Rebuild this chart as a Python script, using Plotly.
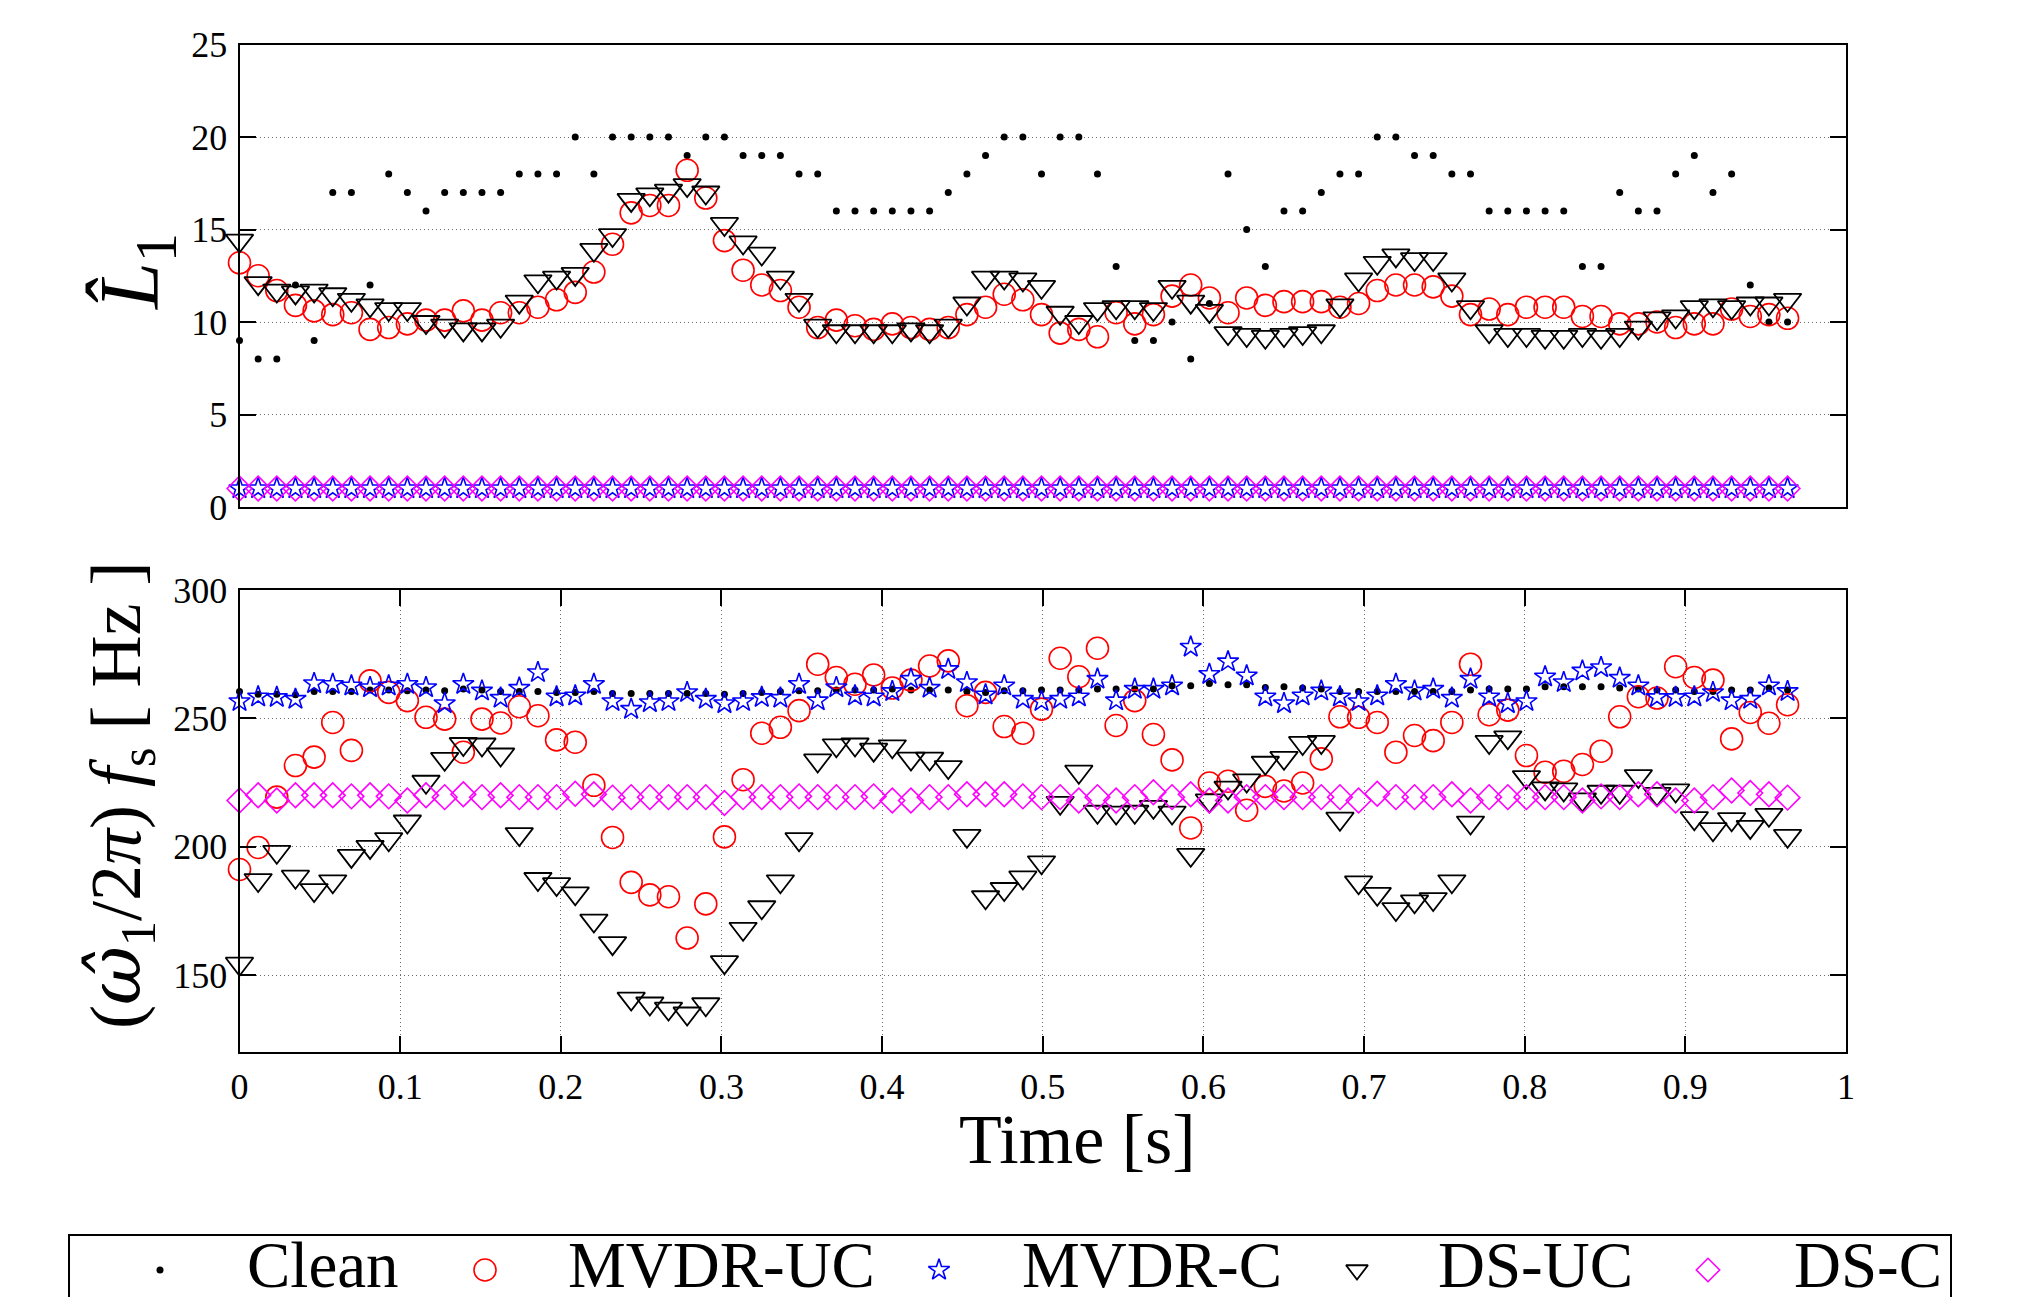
import plotly.graph_objects as go

# ---------------- data ----------------
hop_s = 512 / 44100.0
n_frames = 84
time_s = [round(i * hop_s, 5) for i in range(n_frames)]

series_names = ["Clean", "MVDR-UC", "MVDR-C", "DS-UC", "DS-C"]

# Top panel: estimated number of harmonics L1
clean_L = [9, 8, 8, 12, 9, 17, 17, 12, 18, 17,
           16, 17, 17, 17, 17, 18, 18, 18, 20, 18,
           20, 20, 20, 20, 19, 20, 20, 19, 19, 19,
           18, 18, 16, 16, 16, 16, 16, 16, 17, 18,
           19, 20, 20, 18, 20, 20, 18, 13, 9, 9,
           10, 8, 11, 18, 15, 13, 16, 16, 17, 18,
           18, 20, 20, 19, 19, 18, 18, 16, 16, 16,
           16, 16, 13, 13, 17, 16, 16, 18, 19, 17,
           18, 12, 10, 10]
mvdr_uc_L = [13.2, 12.5, 11.7, 10.9, 10.6, 10.4, 10.5, 9.6, 9.7, 9.9,
             10.1, 10.1, 10.6, 10.1, 10.5, 10.5, 10.8, 11.2, 11.6, 12.7,
             14.2, 15.9, 16.3, 16.3, 18.2, 16.7, 14.4, 12.8, 12.0, 11.7,
             10.8, 9.7, 10.1, 9.8, 9.6, 9.9, 9.7, 9.6, 9.7, 10.4,
             10.8, 11.5, 11.2, 10.4, 9.4, 9.6, 9.2, 10.5, 9.9, 10.4,
             11.4, 12.0, 11.3, 10.5, 11.3, 10.9, 11.1, 11.1, 11.1, 10.8,
             11.0, 11.7, 12.0, 12.0, 11.9, 11.4, 10.4, 10.7, 10.4, 10.8,
             10.8, 10.8, 10.3, 10.3, 9.9, 9.9, 10.0, 9.7, 9.9, 9.9,
             10.7, 10.3, 10.4, 10.2]
mvdr_c_L = [1, 1, 1, 1, 1, 1, 1, 1, 1, 1,
            1, 1, 1, 1, 1, 1, 1, 1, 1, 1,
            1, 1, 1, 1, 1, 1, 1, 1, 1, 1,
            1, 1, 1, 1, 1, 1, 1, 1, 1, 1,
            1, 1, 1, 1, 1, 1, 1, 1, 1, 1,
            1, 1, 1, 1, 1, 1, 1, 1, 1, 1,
            1, 1, 1, 1, 1, 1, 1, 1, 1, 1,
            1, 1, 1, 1, 1, 1, 1, 1, 1, 1,
            1, 1, 1, 1]
ds_uc_L = [14.4, 12.1, 11.7, 11.6, 11.7, 11.5, 11.2, 10.9, 10.7, 10.7,
           10.0, 9.8, 9.6, 9.6, 9.8, 11.1, 12.2, 12.4, 12.6, 13.9,
           14.7, 16.6, 16.9, 17.1, 17.4, 17.0, 15.3, 14.3, 13.7, 12.4,
           11.2, 9.8, 9.5, 9.5, 9.5, 9.5, 9.6, 9.5, 9.8, 11.0,
           12.4, 12.4, 12.3, 11.9, 10.5, 10.0, 10.7, 10.8, 10.8, 10.7,
           11.9, 11.1, 10.6, 9.4, 9.3, 9.2, 9.3, 9.4, 9.5, 10.9,
           12.3, 13.2, 13.6, 13.4, 13.4, 12.3, 10.8, 9.5, 9.3, 9.3,
           9.2, 9.2, 9.3, 9.2, 9.3, 9.7, 10.2, 10.3, 10.8, 10.9,
           10.8, 11.0, 11.0, 11.2]
ds_c_L = [1, 1, 1, 1, 1, 1, 1, 1, 1, 1,
          1, 1, 1, 1, 1, 1, 1, 1, 1, 1,
          1, 1, 1, 1, 1, 1, 1, 1, 1, 1,
          1, 1, 1, 1, 1, 1, 1, 1, 1, 1,
          1, 1, 1, 1, 1, 1, 1, 1, 1, 1,
          1, 1, 1, 1, 1, 1, 1, 1, 1, 1,
          1, 1, 1, 1, 1, 1, 1, 1, 1, 1,
          1, 1, 1, 1, 1, 1, 1, 1, 1, 1,
          1, 1, 1, 1]

# Bottom panel: estimated fundamental frequency [Hz]
clean_f = [260.5, 259.4, 259.4, 259.2, 260.5, 260.5, 260.5, 261.0, 261.0, 260.7,
           261.0, 260.7, 261.4, 261.0, 260.5, 260.5, 260.5, 260.1, 260.1, 260.5,
           259.7, 259.7, 259.7, 259.7, 259.7, 259.7, 259.4, 259.7, 260.1, 260.5,
           260.7, 260.7, 261.0, 261.0, 261.0, 261.4, 261.0, 261.0, 261.0, 260.5,
           260.1, 260.7, 260.7, 261.0, 261.0, 261.0, 261.4, 261.4, 261.4, 261.4,
           262.7, 262.7, 263.6, 263.1, 263.1, 262.0, 262.3, 261.8, 261.4, 260.5,
           260.5, 260.5, 260.5, 260.5, 260.5, 260.5, 261.0, 261.4, 261.4, 261.4,
           262.3, 262.3, 262.3, 262.3, 261.8, 261.4, 261.0, 261.0, 260.5, 260.5,
           261.0, 261.0, 261.8, 261.0]
mvdr_uc_f = [191.1, 199.7, 219.3, 231.6, 234.9, 248.4, 237.5, 264.6, 260.1, 256.9,
             250.4, 249.7, 236.8, 249.7, 248.2, 254.5, 251.0, 241.6, 240.7, 223.9,
             203.6, 186.1, 181.2, 180.5, 164.4, 177.7, 203.8, 226.1, 244.2, 246.5,
             253.0, 271.1, 265.9, 263.3, 266.9, 261.8, 264.9, 270.4, 272.4, 254.9,
             260.1, 246.8, 244.2, 253.6, 273.4, 266.2, 277.3, 247.2, 256.9, 243.7,
             233.8, 207.3, 224.8, 225.5, 214.2, 223.5, 221.7, 224.8, 234.2, 250.6,
             250.4, 248.4, 236.8, 243.3, 241.3, 248.4, 271.1, 251.4, 253.2, 235.5,
             229.0, 229.4, 232.0, 237.2, 250.6, 258.4, 257.9, 270.1, 265.9, 264.9,
             242.0, 252.3, 248.1, 255.3]
mvdr_c_f = [256.6, 258.4, 258.2, 257.5, 263.6, 263.3, 262.7, 262.0, 262.7, 263.3,
            262.0, 255.8, 263.3, 260.7, 257.9, 261.8, 267.9, 258.4, 258.8, 263.3,
            256.6, 253.6, 256.2, 256.6, 260.1, 257.5, 255.8, 256.6, 258.2, 257.9,
            263.3, 256.9, 262.0, 258.8, 258.4, 260.5, 265.3, 261.8, 269.1, 264.0,
            259.2, 262.7, 257.5, 256.6, 257.5, 258.4, 265.3, 256.9, 261.4, 261.4,
            262.7, 277.8, 267.2, 272.1, 266.6, 258.4, 255.8, 258.8, 260.7, 258.4,
            256.6, 258.8, 263.3, 260.7, 261.4, 257.9, 265.3, 258.4, 255.8, 256.6,
            266.2, 264.0, 268.5, 269.8, 265.7, 262.7, 258.2, 258.2, 258.4, 260.1,
            256.9, 257.5, 262.7, 260.5]
ds_uc_f = [154.4, 187.0, 198.0, 188.3, 183.1, 186.5, 196.4, 199.9, 202.9, 209.8,
           225.3, 234.2, 240.0, 239.8, 235.9, 204.9, 187.4, 185.4, 181.8, 171.2,
           162.4, 140.8, 138.9, 136.9, 135.0, 138.6, 155.0, 168.0, 176.4, 186.5,
           202.9, 233.6, 239.5, 239.8, 237.8, 239.1, 234.3, 234.3, 231.0, 204.2,
           180.3, 183.5, 188.0, 193.9, 217.1, 229.2, 213.6, 213.3, 213.6, 215.5,
           213.3, 196.8, 218.0, 223.0, 225.8, 232.7, 234.6, 240.4, 240.8, 210.9,
           186.1, 181.6, 175.7, 178.7, 179.6, 186.5, 209.4, 240.8, 242.6, 227.1,
           222.7, 222.3, 218.4, 221.4, 221.4, 227.5, 220.6, 221.9, 211.1, 206.8,
           210.7, 207.7, 212.4, 204.2]
ds_c_f = [218.0, 220.0, 218.0, 220.0, 220.0, 220.0, 219.6, 220.0, 219.6, 218.0,
          220.0, 219.3, 220.4, 219.3, 220.0, 219.3, 219.3, 219.3, 220.6, 220.4,
          219.1, 219.3, 219.3, 219.3, 219.3, 219.3, 217.0, 219.3, 219.3, 219.3,
          219.6, 219.3, 219.3, 219.3, 219.6, 218.0, 218.0, 219.3, 219.3, 220.4,
          220.4, 220.4, 219.6, 219.3, 219.3, 218.0, 219.3, 218.0, 219.3, 221.2,
          219.3, 220.4, 218.0, 218.0, 219.3, 219.3, 219.3, 219.3, 219.3, 219.3,
          218.0, 220.6, 219.3, 219.3, 219.3, 220.4, 218.0, 219.3, 219.3, 219.3,
          219.3, 219.3, 218.0, 219.6, 219.3, 220.4, 220.4, 218.0, 218.0, 219.3,
          221.9, 220.9, 220.4, 219.1]

x_ticks = [0, 0.1, 0.2, 0.3, 0.4, 0.5, 0.6, 0.7, 0.8, 0.9, 1]
x_ticklabels = ["0", "0.1", "0.2", "0.3", "0.4", "0.5", "0.6", "0.7", "0.8", "0.9", "1"]
L_ticks = [0, 5, 10, 15, 20, 25]
f_ticks = [150, 200, 250, 300]

# ---------------- layout constants ----------------
W, H = 2021, 1297
PAGE_OFF = 8   # default page margin of the html body
FONT = "Liberation Serif"
TRANSPARENT = "rgba(0,0,0,0)"


def px(x):
    return (x - PAGE_OFF) / W


def py(y):
    return 1 - (y - PAGE_OFF) / H


x_dom = [px(239.5), px(1846)]
top_dom = [py(507), py(44.5)]
bot_dom = [py(1052), py(590)]

styles = {
    "Clean":   dict(symbol="circle", size=7, color="black", line=dict(width=0)),
    "MVDR-UC": dict(symbol="circle-open", size=22, color="#ff0000", line=dict(width=1.6, color="#ff0000")),
    "MVDR-C":  dict(symbol="star-open", size=16, color="#0000ff", line=dict(width=1.6, color="#0000ff")),
    "DS-UC":   dict(symbol="triangle-down-open", size=24, color="black", line=dict(width=1.8, color="black")),
    "DS-C":    dict(symbol="diamond-open", size=19, color="#ff00ff", line=dict(width=1.6, color="#ff00ff")),
}

fig = go.Figure()

top_series = [clean_L, mvdr_uc_L, mvdr_c_L, ds_uc_L, ds_c_L]
bot_series = [clean_f, mvdr_uc_f, mvdr_c_f, ds_uc_f, ds_c_f]

for name, ys in zip(series_names, top_series):
    fig.add_trace(go.Scatter(x=time_s, y=ys, mode="markers", name=name,
                             marker=styles[name], cliponaxis=False,
                             showlegend=False, xaxis="x", yaxis="y"))
for name, ys in zip(series_names, bot_series):
    fig.add_trace(go.Scatter(x=time_s, y=ys, mode="markers", name=name,
                             marker=styles[name], cliponaxis=False,
                             showlegend=False, xaxis="x2", yaxis="y2"))

# ---------------- custom legend (overlay pixel axis) ----------------
legend_marker_x = [160, 485, 939, 1357, 1708]
legend_text_x = [245, 566, 1020, 1436, 1792]
legend_y = 1270
legend_sizes = {"Clean": 7, "MVDR-UC": 22, "MVDR-C": 16, "DS-UC": 19, "DS-C": 18}
for name, mx in zip(series_names, legend_marker_x):
    m = dict(styles[name])
    m["size"] = legend_sizes[name]
    fig.add_trace(go.Scatter(x=[mx], y=[legend_y], mode="markers", marker=m,
                             cliponaxis=False, showlegend=False, hoverinfo="skip",
                             xaxis="x3", yaxis="y3"))

annotations = []
for name, tx in zip(series_names, legend_text_x):
    annotations.append(dict(text=name, x=px(tx), y=py(1265), xref="paper", yref="paper",
                            xanchor="left", yanchor="middle", showarrow=False,
                            font=dict(family=FONT, size=65, color="black")))

# axis titles
annotations.append(dict(text="Time [s]", x=px(1077), y=py(1139), xref="paper", yref="paper",
                        xanchor="center", yanchor="middle", showarrow=False,
                        font=dict(family=FONT, size=70, color="black")))
annotations.append(dict(text="<i>L\u0302</i><sub>1</sub>", x=px(136), y=py(272),
                        xref="paper", yref="paper", xanchor="center", yanchor="middle",
                        textangle=-90, showarrow=False,
                        font=dict(family=FONT, size=84, color="black")))
annotations.append(dict(text="(<span style=\"font-family:'DejaVu Serif'\"><i>\u03c9\u0302</i></span>"
                             "<sub>1</sub>/2<i>\u03c0</i>) <i>f</i><sub>s</sub> [ Hz ]",
                        x=px(120), y=py(795), xref="paper", yref="paper",
                        xanchor="center", yanchor="middle", textangle=-90, showarrow=False,
                        font=dict(family=FONT, size=72, color="black")))

shapes = [dict(type="rect", xref="paper", yref="paper",
               x0=px(69), x1=px(1951), y0=py(1330), y1=py(1235),
               line=dict(color="black", width=2), fillcolor=TRANSPARENT, layer="above")]

grid = dict(showgrid=True, gridcolor="#6e6e6e", gridwidth=1, griddash="1px,3px")
common = dict(showline=True, linecolor="black", linewidth=2, mirror="ticks",
              zeroline=False, ticks="inside", ticklen=16, tickwidth=2, tickcolor="black",
              automargin=False,
              tickfont=dict(family=FONT, size=36, color="black"))

fig.update_layout(
    width=W, height=H, autosize=False,
    margin=dict(l=0, r=0, t=0, b=0, pad=0, autoexpand=False),
    paper_bgcolor="white", plot_bgcolor=TRANSPARENT, showlegend=False,
    xaxis=dict(domain=x_dom, range=[0, 1], anchor="y", showticklabels=False, ticks="",
               showgrid=False, showline=True, mirror=True, linecolor="black", linewidth=2,
               zeroline=False, automargin=False),
    yaxis=dict(domain=top_dom, range=[0, 25], anchor="x", tickmode="array", tickvals=L_ticks,
               ticklabelstandoff=3, **common, **grid),
    xaxis2=dict(domain=x_dom, range=[0, 1], anchor="y2", tickmode="array", tickvals=x_ticks,
                ticktext=x_ticklabels, ticklabelstandoff=2, **common, **grid),
    yaxis2=dict(domain=bot_dom, range=[120, 300], anchor="x2", tickmode="array", tickvals=f_ticks,
                ticklabelstandoff=3, **common, **grid),
    xaxis3=dict(domain=[0, 1], range=[PAGE_OFF, W + PAGE_OFF], anchor="y3", visible=False,
                fixedrange=True, automargin=False),
    yaxis3=dict(domain=[0, 1], range=[H + PAGE_OFF, PAGE_OFF], anchor="x3", visible=False,
                fixedrange=True, automargin=False),
    annotations=annotations,
    shapes=shapes,
)

fig.write_html("out.html")
